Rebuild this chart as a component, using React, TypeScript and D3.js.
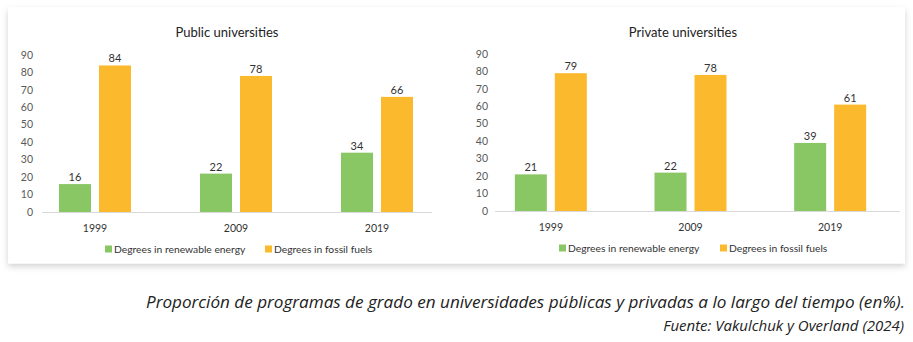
import React from "react";
import * as d3 from "d3";

const years = ["1999", "2009", "2019"];
const seriesNames = ["Degrees in renewable energy", "Degrees in fossil fuels"];
const publicRenewable = [16, 22, 34];
const publicFossil = [84, 78, 66];
const privateRenewable = [21, 22, 39];
const privateFossil = [79, 78, 61];
const yTicks = [0, 10, 20, 30, 40, 50, 60, 70, 80, 90];
const titles = ["Public universities", "Private universities"];
const captionLines = [
  "Proporción de programas de grado en universidades públicas y privadas a lo largo del tiempo (en%).",
  "Fuente: Vakulchuk y Overland (2024)",
];

const COLORS = ["#89C664", "#FBB92E"];
const FONT = "Lato, 'Open Sans', sans-serif";

type PanelCfg = {
  title: string;
  data: number[][];
  y0: number;
  y90: number;
  xRange: [number, number];
  axisX: [number, number];
  tickX: number;
  titleX: number;
  legendY: number;
  legendX: [number, number];
};

function Panel({ cfg }: { cfg: PanelCfg }) {
  const y = d3.scaleLinear().domain([0, 90]).range([cfg.y0, cfg.y90]);
  const x = d3.scaleBand<string>().domain(years).range(cfg.xRange).padding(0);
  const sub = d3.scaleBand<number>().domain([0, 1]).range([-36, 36]).paddingInner(0.2).paddingOuter(0);
  return (
    <g>
      <text x={cfg.titleX} y={37} textAnchor="middle" fontFamily={FONT} fontSize={13} fill="#222">
        {cfg.title}
      </text>
      {yTicks.map((t) => (
        <text key={t} x={cfg.tickX} y={y(t)} dy="0.35em" textAnchor="end" fontFamily={FONT} fontSize={10.5} fill="#595959">
          {t}
        </text>
      ))}
      <line x1={cfg.axisX[0]} x2={cfg.axisX[1]} y1={cfg.y0 + 0.5} y2={cfg.y0 + 0.5} stroke="#d9d9d9" strokeWidth={1} />
      {years.map((yr, i) => {
        const c = (x(yr) as number) + x.bandwidth() / 2;
        return (
          <g key={yr}>
            {cfg.data.map((s, si) => {
              const bx = c + (sub(si) as number);
              const v = s[i];
              return (
                <g key={si}>
                  <rect x={bx} y={y(v)} width={sub.bandwidth()} height={y(0) - y(v)} fill={COLORS[si]} />
                  <text x={bx + sub.bandwidth() / 2} y={y(v) - 3} textAnchor="middle" fontFamily={FONT} fontSize={11} fill="#333">
                    {v}
                  </text>
                </g>
              );
            })}
            <text x={c} y={cfg.y0 + 20} textAnchor="middle" fontFamily={FONT} fontSize={10.5} fill="#333">
              {yr}
            </text>
          </g>
        );
      })}
      {seriesNames.map((n, si) => (
        <g key={n}>
          <rect x={cfg.legendX[si]} y={cfg.legendY - 3.5} width={7} height={7} fill={COLORS[si]} />
          <text x={cfg.legendX[si] + 9} y={cfg.legendY} dy="0.35em" fontFamily={FONT} fontSize={10.3} fill="#333">
            {n}
          </text>
        </g>
      ))}
    </g>
  );
}

export default function App() {
  const panels: PanelCfg[] = [
    {
      title: titles[0],
      data: [publicRenewable, publicFossil],
      y0: 212,
      y90: 55,
      xRange: [24.5, 447.5],
      axisX: [42, 432],
      tickX: 33,
      titleX: 227,
      legendY: 249,
      legendX: [105, 265],
    },
    {
      title: titles[1],
      data: [privateRenewable, privateFossil],
      y0: 211,
      y90: 54,
      xRange: [481, 900],
      axisX: [495, 900],
      tickX: 488,
      titleX: 683,
      legendY: 248,
      legendX: [559, 720],
    },
  ];
  return (
    <svg width={913} height={342} style={{ position: "absolute", left: 0, top: 0, background: "#fff" }}>
      <defs>
        <filter id="shadow" x="-5%" y="-10%" width="110%" height="125%">
          <feDropShadow dx="0" dy="3" stdDeviation="3" floodColor="#000" floodOpacity="0.18" />
        </filter>
      </defs>
      <rect x={8} y={7.5} width={897} height={256} fill="#fff" filter="url(#shadow)" />
      {panels.map((p, i) => (
        <Panel key={i} cfg={p} />
      ))}
      <text
        x={905 - 759}
        y={308}
        textLength={759}
        lengthAdjust="spacingAndGlyphs"
        fontFamily="'Open Sans', sans-serif"
        fontStyle="italic"
        fontSize={16}
        fill="#222"
      >
        {captionLines[0]}
      </text>
      <text
        x={904}
        y={331}
        textAnchor="end"
        fontFamily="'Open Sans', sans-serif"
        fontStyle="italic"
        fontSize={15}
        fill="#222"
      >
        {captionLines[1]}
      </text>
    </svg>
  );
}
